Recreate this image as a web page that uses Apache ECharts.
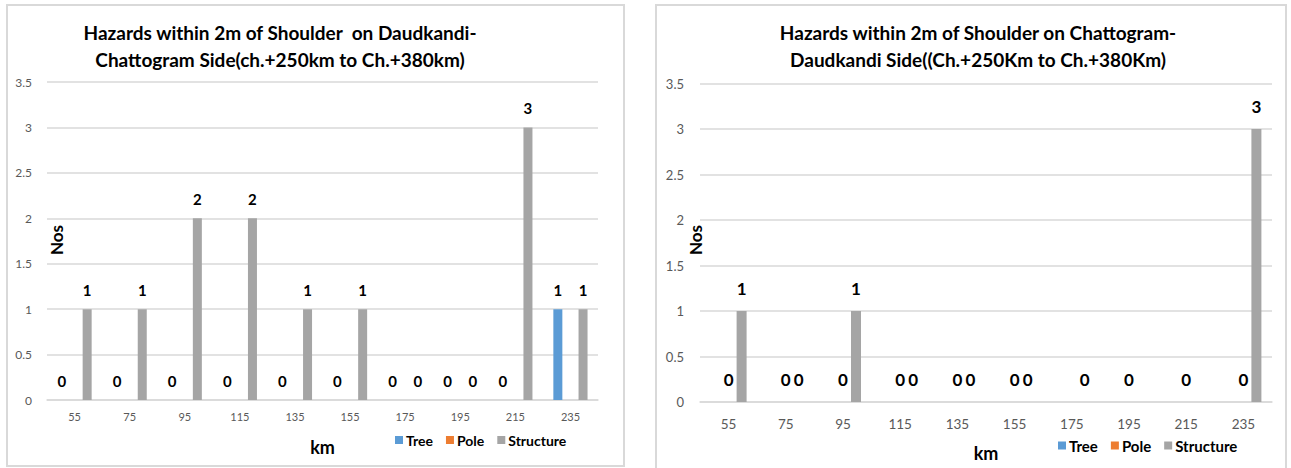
<!DOCTYPE html>
<html>
<head>
<meta charset="utf-8">
<script src="https://cdn.jsdelivr.net/npm/echarts@6/dist/echarts.min.js"></script>
<style>
  html, body { margin: 0; padding: 0; background: #ffffff; width: 1291px; height: 468px; overflow: hidden; }
  .panel { position: absolute; box-sizing: border-box; border: 2px solid #d9d9d9; background: #fff; }
  #chartA { left: 6px; top: 4px; width: 619px; height: 463px; }
  #chartB { left: 655px; top: 4px; width: 632px; height: 472px; }
</style>
</head>
<body>
<div id="chartA" class="panel"></div>
<div id="chartB" class="panel"></div>
<script>
// ---------- data ----------
const categories = ['55', '75', '95', '115', '135', '155', '175', '195', '215', '235'];
const seriesNames = ['Tree', 'Pole', 'Structure'];
const yTicks = { min: 0, max: 3.5, interval: 0.5 };

const leftTitle = 'Hazards within 2m of Shoulder  on Daudkandi-\nChattogram Side(ch.+250km to Ch.+380km)';
const leftTree      = [0, 0, 0, 0, 0, 0, 0, 0, 0, 1];
const leftPole      = [null, null, null, null, null, null, null, null, null, null];
const leftStructure = [1, 1, 2, 2, 1, 1, 0, 0, 3, 1];

const rightTitle = 'Hazards within 2m of Shoulder on Chattogram-\nDaudkandi Side((Ch.+250Km to Ch.+380Km)';
const rightTree      = [null, null, null, null, null, null, null, null, null, null];
const rightPole      = [0, 0, 0, 0, 0, 0, null, 0, 0, 0];
const rightStructure = [1, 0, 1, 0, 0, 0, 0, null, null, 3];

const colors = ['#5B9BD5', '#ED7D31', '#A5A5A5'];
const FONT = 'Lato, "Liberation Sans", sans-serif';

function buildOption(cfg) {
  const dataSets = cfg.data;
  return {
    animation: false,
    color: colors,
    textStyle: { fontFamily: FONT },
    graphic: [{
      type: 'text',
      x: cfg.titleX, y: cfg.titleY,
      style: {
        text: cfg.title, fill: '#000', font: 'bold ' + cfg.titleFont + 'px ' + FONT,
        textAlign: 'center', textVerticalAlign: 'top', lineHeight: 27
      }
    }, {
      type: 'text',
      x: cfg.nosX, y: cfg.nosY, rotation: Math.PI / 2,
      style: {
        text: 'Nos', fill: '#000', font: 'bold 17px ' + FONT,
        textAlign: 'center', textVerticalAlign: 'middle'
      }
    }],
    legend: {
      data: seriesNames,
      left: cfg.legendX, top: cfg.legendY,
      icon: 'rect', itemWidth: 8, itemHeight: 8, itemGap: 13,
      textStyle: { fontFamily: FONT, fontWeight: 'bold', fontSize: cfg.legendFont, color: '#000', padding: [0, 0, 0, -2] }
    },
    grid: { left: cfg.grid.left, top: cfg.grid.top, width: cfg.grid.width, height: cfg.grid.height, containLabel: false },
    xAxis: {
      type: 'category', data: categories,
      name: 'km', nameLocation: 'middle', nameGap: cfg.kmGap,
      nameTextStyle: { fontFamily: FONT, fontWeight: 'bold', fontSize: 18, color: '#000' },
      axisLine: { lineStyle: { color: '#d9d9d9', width: 1.5 } },
      axisTick: { show: false },
      axisLabel: { interval: 0, color: '#595959', fontSize: cfg.tickFont, margin: cfg.xLabelMargin, fontFamily: FONT }
    },
    yAxis: {
      type: 'value', min: yTicks.min, max: yTicks.max, interval: yTicks.interval,
      axisLine: { show: false }, axisTick: { show: false },
      axisLabel: { color: '#595959', fontSize: cfg.yFont, margin: cfg.yLabelMargin, fontFamily: FONT },
      splitLine: { lineStyle: { color: '#d9d9d9', width: 1.5 } }
    },
    series: seriesNames.map((n, i) => ({
      name: n, type: 'bar', data: dataSets[i],
      barWidth: cfg.barWidth, barGap: cfg.barGap,
      itemStyle: { color: colors[i] },
      label: {
        show: true, position: 'top', distance: cfg.labelDist,
        fontFamily: FONT, fontWeight: 'bold', fontSize: cfg.labelFont, color: '#000'
      }
    }))
  };
}

const chartA = echarts.init(document.getElementById('chartA'), null, { renderer: 'svg' });
chartA.setOption(buildOption({
  title: leftTitle, titleX: 272, titleY: 13, titleFont: 19,
  nosX: 48, nosY: 234,
  data: [leftTree, leftPole, leftStructure],
  grid: { left: 39, top: 76, width: 551, height: 318 },
  legendX: 382, legendY: 422, legendFont: 14,
  kmGap: 38, tickFont: 11, yFont: 12,
  xLabelMargin: 11, yLabelMargin: 15,
  barWidth: 9, barGap: '40%', labelDist: 12, labelFont: 15
}));

const chartB = echarts.init(document.getElementById('chartB'), null, { renderer: 'svg' });
chartB.setOption(buildOption({
  title: rightTitle, titleX: 321, titleY: 13, titleFont: 19,
  nosX: 38, nosY: 234,
  data: [rightTree, rightPole, rightStructure],
  grid: { left: 43, top: 77.5, width: 572, height: 318.5 },
  legendX: 396, legendY: 427, legendFont: 15,
  kmGap: 42, tickFont: 13.5, yFont: 13,
  xLabelMargin: 15, yLabelMargin: 16,
  barWidth: 10, barGap: '30%', labelDist: 14, labelFont: 17
}));
</script>
</body>
</html>
